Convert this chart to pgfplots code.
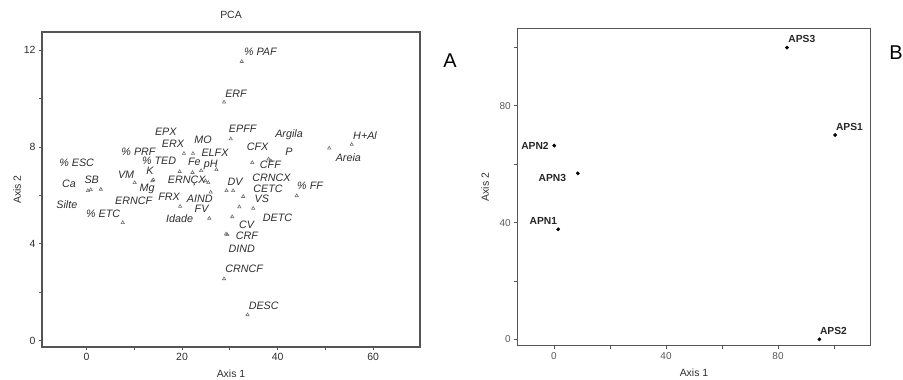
\documentclass[border=0pt]{standalone}
\usepackage{pgfplots}
\pgfplotsset{compat=1.18}
\usepackage{fontspec}
\setmainfont{Liberation Sans}
\definecolor{txt}{HTML}{2E2E2E}
\definecolor{axc}{HTML}{555555}
\definecolor{mk}{HTML}{707070}
\begin{document}
\begin{tikzpicture}
\useasboundingbox (0bp,0bp) rectangle (903bp,380bp);
\pgfplotsset{common/.style={scale only axis, anchor=south west,
  axis line style={draw=axc, line width=1.2pt},
  every tick/.style={draw=axc, line width=0.8pt},
  major tick length=3bp, tick align=outside, tick pos=left,
  /pgf/number format/assume math mode=true,
  tick label style={font=\fontsize{10.5}{12}\selectfont, text=txt},
  label style={font=\fontsize{10.5}{12}\selectfont, text=txt},
  title style={font=\fontsize{10.5}{12}\selectfont, text=txt},
  clip=false}}
% ---------- Panel A ----------
\begin{axis}[common, at={(42bp,33bp)}, width=378bp, height=315bp,
  xmin=-9.3, xmax=69.8, ymin=-0.27, ymax=12.75,
  xtick={0,10,...,60}, xticklabels={0,,20,,40,,60},
  ytick={0,2,...,12}, yticklabels={0,,4,,8,,12},
  xlabel={Axis 1}, ylabel={Axis 2}, title={PCA},
  xlabel style={at={(axis description cs:0.5,-0.086)}, anchor=center},
  ylabel style={at={(axis description cs:-0.066,0.5)}, anchor=center},
  title style={at={(axis description cs:0.5,1.035)}, anchor=center}]
\addplot[only marks, mark=triangle, mark size=1.9pt, mk, mark options={line width=0.6pt}] coordinates {
(32.5,11.53) (28.8,9.85) (30.2,8.33) (55.5,8.10) (50.8,7.95) (34.7,7.35)
(38.1,7.50) (38.6,7.42) (20.4,7.73) (22.3,7.73) (19.5,6.98) (22.2,6.94)
(24.0,7.02) (27.2,7.06) (24.9,6.60) (25.5,6.52) (26.0,6.13) (19.6,5.54)
(25.7,5.05) (14.0,6.64) (13.8,6.60) (10.1,6.52) (7.6,4.87) (0.3,6.19)
(0.9,6.23) (3.0,6.25) (29.3,6.19) (30.7,6.19) (32.8,5.95) (32.0,5.52)
(34.9,5.46) (44.0,5.98) (30.5,5.11) (29.5,4.37) (29.2,4.40) (28.8,2.55)
(33.7,1.06)};
\addplot[draw=none, mark=none, nodes near coords, point meta=explicit symbolic,
  every node near coord/.append style={anchor=center, inner sep=0pt,
    font=\fontsize{10.8}{12}\selectfont\itshape, text=txt}]
  table[col sep=comma, row sep=\\, meta=label] {
x,y,label\\
36.4,11.92,\% PAF\\
31.3,10.19,ERF\\
32.7,8.73,EPFF\\
42.4,8.50,Argila\\
58.3,8.46,H+Al\\
35.8,7.99,CFX\\
42.4,7.81,P\\
54.8,7.56,Areia\\
38.5,7.26,CFF\\
38.7,6.71,CRNCX\\
38.0,6.27,CETC\\
46.8,6.39,\% FF\\
36.7,5.84,VS\\
31.1,6.57,DV\\
40.0,5.06,DETC\\
33.5,4.77,CV\\
33.6,4.33,CRF\\
32.5,3.78,DIND\\
33.0,2.95,CRNCF\\
37.1,1.43,DESC\\
16.6,8.64,EPX\\
18.1,8.11,ERX\\
24.4,8.29,MO\\
10.9,7.81,\% PRF\\
26.9,7.77,ELFX\\
15.2,7.44,\% TED\\
22.6,7.38,Fe\\
26.0,7.25,pH\\
13.3,7.02,K\\
8.3,6.85,VM\\
21.0,6.60,ERNÇX\\
12.7,6.27,Mg\\
17.3,5.93,FRX\\
23.7,5.84,AIND\\
9.9,5.79,ERNCF\\
24.1,5.43,FV\\
19.5,5.02,Idade\\
-2.05,7.33,\% ESC\\
-3.66,6.48,Ca\\
1.1,6.64,SB\\
-4.1,5.61,Silte\\
3.5,5.24,\% ETC\\
};
\end{axis}
% ---------- Panel B ----------
\begin{axis}[common, at={(517.3bp,34.3bp)}, width=353.4bp, height=317.4bp,
  xmin=-13.1, xmax=113.1, ymin=-2.2, ymax=106.6,
  xtick={0,20,...,100}, xticklabels={0,,40,,80,},
  ytick={0,20,...,100}, yticklabels={0,,40,,80,},
  tick label style={font=\fontsize{10}{12}\selectfont, text=black!65},
  xlabel={Axis 1}, ylabel={Axis 2},
  xlabel style={at={(axis description cs:0.5,-0.085)}, anchor=center},
  ylabel style={at={(axis description cs:-0.091,0.5)}, anchor=center}]
\addplot[only marks, mark=*, mark size=1.7pt, black] coordinates {
(0.1,66.4) (8.5,56.9) (1.5,37.7) (83.2,100) (100.4,70.0) (94.8,0)};
\addplot[draw=none, mark=none, nodes near coords, point meta=explicit symbolic,
  every node near coord/.append style={anchor=center, inner sep=0pt,
    font=\fontsize{10.3}{12}\selectfont\bfseries, text=black!85}]
  table[col sep=comma, row sep=\\, meta=label] {
x,y,label\\
-6.8,66.2,APN2\\
-0.6,55.4,APN3\\
-3.8,40.7,APN1\\
88.5,102.8,APS3\\
105.5,72.9,APS1\\
99.8,2.9,APS2\\
};
\end{axis}
\node[font=\fontsize{20}{24}\selectfont, text=black] at (450bp,319bp) {A};
\node[font=\fontsize{20}{24}\selectfont, text=black] at (896bp,327bp) {B};
\end{tikzpicture}
\end{document}
